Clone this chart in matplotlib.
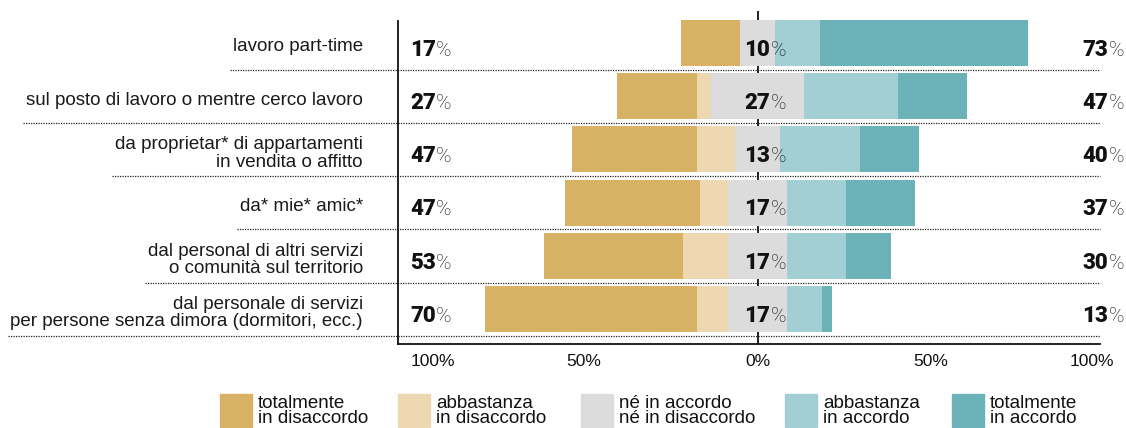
import numpy as np
import matplotlib
matplotlib.use("Agg")
from matplotlib import pyplot as plt
from matplotlib.patches import Rectangle

plt.rcParams['font.family'] = ['Liberation Sans', 'DejaVu Sans']

categories = [
    "lavoro part-time",
    "sul posto di lavoro o mentre cerco lavoro",
    "da proprietar* di appartamenti\nin vendita o affitto",
    "da* mie* amic*",
    "dal personal di altri servizi\no comunità sul territorio",
    "dal personale di servizi\nper persone senza dimora (dormitori, ecc.)",
]
# percent of answers per category
tot_disaccordo = [17, 23, 36, 39, 40, 61]
abb_disaccordo = [0, 4, 11, 8, 13, 9]
neutrale = [10, 27, 13, 17, 17, 17]
abb_accordo = [13, 27, 23, 17, 17, 10]
tot_accordo = [60, 20, 17, 20, 13, 3]

legend_labels = [
    "totalmente\nin disaccordo",
    "abbastanza\nin disaccordo",
    "né in accordo\nné in disaccordo",
    "abbastanza\nin accordo",
    "totalmente\nin accordo",
]
tick_values = [-100, -50, 0, 50, 100]
tick_labels = ["100%", "50%", "0%", "50%", "100%"]

colors = ["#D8B264", "#EDD8B1", "#DCDCDC", "#A1CFD3", "#6CB2B9"]

W, H = 1126, 428
fig = plt.figure(figsize=(W / 100, H / 100), dpi=100)
ax = fig.add_axes([398 / W, 1 - 344.3 / H, 702 / W, (344.3 - 11) / H])

segs = np.array([tot_disaccordo, abb_disaccordo, neutrale, abb_accordo, tot_accordo], dtype=float)
rows = np.arange(len(categories))
dis_total = segs[0] + segs[1]
acc_total = segs[3] + segs[4]

# diverging stack: neutral block centered on zero
left = -segs[2] / 2 - dis_total
for k in range(5):
    ax.barh(rows, segs[k], left=left, height=0.865, color=colors[k], zorder=2)
    left = left + segs[k]

ax.set_xlim(-103.6, 98.7)
ax.set_ylim(5.66, -0.60)
ax.axvline(0, color="#111111", lw=1.3, zorder=1)

for s in ["top", "right"]:
    ax.spines[s].set_visible(False)
for s in ["left", "bottom"]:
    ax.spines[s].set_color("#111111")
    ax.spines[s].set_linewidth(1.3)
ax.spines["left"].set_bounds(5.66, -0.41)
ax.set_xticks([])
ax.set_yticks([])

num_kw = dict(fontsize=16, fontweight="heavy", family="Roboto", color="#111111", va="baseline")
pct_kw = dict(fontsize=15, fontweight="light", family="Roboto", color="#111111", va="baseline")


def pct_after(num_txt, y):
    ax.annotate("%", xy=(1, y), xycoords=(num_txt, "data"), ha="left", **pct_kw)


base_off = 0.24
for i in rows:
    y = i + base_off
    t = ax.text(-100, y, f"{dis_total[i]:.0f}", ha="left", **num_kw)
    pct_after(t, y)
    t = ax.text(0, y, f"{segs[2][i]:.0f}", ha="center", zorder=3, **num_kw)
    pct_after(t, y)
    p = ax.text(105.6, y, "%", ha="right", clip_on=False, **pct_kw)
    ax.annotate(f"{acc_total[i]:.0f}", xy=(0, y), xycoords=(p, "data"), ha="right", **num_kw)

cat_texts = []
for i, c in enumerate(categories):
    t = ax.annotate(c, xy=(0, i), xycoords=("axes fraction", "data"),
                    xytext=(-35, -4), textcoords="offset pixels",
                    ha="right", va="center", fontsize=13.5,
                    color="#1a1a1a", linespacing=1.05)
    cat_texts.append(t)

for v, lab in zip(tick_values, tick_labels):
    ha = "left" if v == -100 else ("right" if v == 100 else "center")
    dx = 10 if v == 100 else 0
    ax.annotate(lab, xy=(v, 0), xycoords=("data", "axes fraction"),
                xytext=(dx, -17), textcoords="offset pixels",
                ha=ha, va="center", fontsize=12.5,
                color="#111111", annotation_clip=False)

# dotted separators start just left of each row label
fig.canvas.draw()
renderer = fig.canvas.get_renderer()
inv = ax.transData.inverted()
for i, t in enumerate(cat_texts):
    bb = t.get_window_extent(renderer)
    x0 = inv.transform((bb.x0 - 3, 0))[0]
    ax.plot([x0, ax.get_xlim()[1]], [i + 0.5, i + 0.5], color="#222222",
            lw=0.9, ls=(0, (1, 1)), clip_on=False, zorder=1)

# legend
sq_x = [220, 398, 581, 785, 952]
for x, col, lab in zip(sq_x, colors, legend_labels):
    fig.add_artist(Rectangle((x / W, 1 - 427 / H), 32 / W, 33 / H,
                             transform=fig.transFigure, color=col))
    fig.text((x + 38) / W, 1 - 411 / H, lab, ha="left", va="center",
             fontsize=13.5, color="#111111", linespacing=0.9)

fig.savefig("out.png", dpi=100)
